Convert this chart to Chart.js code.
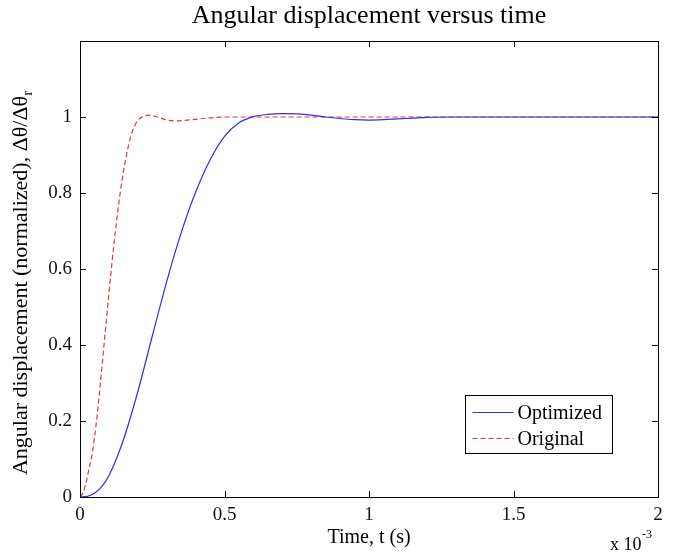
<!DOCTYPE html>
<html>
<head>
<meta charset="utf-8">
<script src="https://cdn.jsdelivr.net/npm/chart.js@4.4.0/dist/chart.umd.min.js"></script>
<style>
html, body { margin: 0; padding: 0; background: #fff; }
#wrap { width: 678px; height: 556px; position: relative; }
</style>
</head>
<body>
<div id="wrap"><canvas id="stepChart"></canvas></div>
<script>
// time in units of 1e-3 s
const timeOptimized = [0, 0.025, 0.05, 0.075, 0.10, 0.15, 0.20, 0.25, 0.30, 0.35, 0.40, 0.45, 0.50, 0.55, 0.60, 0.65, 0.70, 0.75, 0.80, 0.85, 0.90, 0.95, 1.00, 1.05, 1.10, 1.15, 1.20, 1.30, 1.40, 1.60, 1.80, 2.00];
const optimized = [0, 0.0018, 0.0099, 0.027, 0.056, 0.150, 0.277, 0.423, 0.567, 0.695, 0.802, 0.887, 0.949, 0.985, 1.001, 1.007, 1.009, 1.008, 1.005, 1.000, 0.996, 0.993, 0.992, 0.993, 0.995, 0.997, 0.999, 1.0, 1.0, 1.0, 1.0, 1.0];
const timeOriginal = [0, 0.01, 0.02, 0.03, 0.04, 0.05, 0.06, 0.07, 0.08, 0.09, 0.10, 0.11, 0.12, 0.13, 0.14, 0.15, 0.16, 0.17, 0.18, 0.19, 0.20, 0.22, 0.24, 0.26, 0.28, 0.30, 0.33, 0.36, 0.40, 0.44, 0.50, 0.60, 0.80, 1.0, 1.5, 2.0];
const original = [0, 0.01, 0.035, 0.07, 0.105, 0.155, 0.22, 0.295, 0.375, 0.455, 0.535, 0.612, 0.683, 0.748, 0.805, 0.855, 0.897, 0.932, 0.959, 0.978, 0.991, 1.002, 1.005, 1.002, 0.997, 0.992, 0.990, 0.991, 0.994, 0.997, 1.0, 1.0, 1.0, 1.0, 1.0, 1.0];
const xTicks = [0, 0.5, 1, 1.5, 2];
const yTicks = [0, 0.2, 0.4, 0.6, 0.8, 1];
const seriesNames = ['Optimized', 'Original'];

const serif = "'Liberation Serif', 'Times New Roman', serif";

function toPoints(xs, ys) {
    return xs.map((x, i) => ({ x: x, y: ys[i] }));
}

// matlab style box, inward ticks, texts and legend
const matlabFrame = {
    id: 'matlabFrame',
    afterDatasetsDraw(chart) {
        const ctx = chart.ctx;
        const a = chart.chartArea;
        const xs = chart.scales.x;
        const ys = chart.scales.y;
        const tl = 6;
        ctx.save();
        ctx.strokeStyle = '#000';
        ctx.lineWidth = 1;
        ctx.strokeRect(Math.round(a.left) + 0.5, Math.round(a.top) + 0.5, Math.round(a.right - a.left), Math.round(a.bottom - a.top));
        ctx.beginPath();
        xTicks.forEach(v => {
            const px = Math.round(xs.getPixelForValue(v)) + 0.5;
            ctx.moveTo(px, a.bottom); ctx.lineTo(px, a.bottom - tl);
            ctx.moveTo(px, a.top); ctx.lineTo(px, a.top + tl);
        });
        yTicks.forEach(v => {
            const py = Math.round(ys.getPixelForValue(v)) + 0.5;
            ctx.moveTo(a.left, py); ctx.lineTo(a.left + tl, py);
            ctx.moveTo(a.right, py); ctx.lineTo(a.right - tl, py);
        });
        ctx.stroke();

        // legend
        const bw = 147, bh = 58;
        const bx = Math.round(a.right - 46 - bw) + 0.5;
        const by = Math.round(a.bottom - 44 - bh) + 0.5;
        ctx.fillStyle = '#fff';
        ctx.fillRect(bx, by, bw, bh);
        ctx.strokeRect(bx, by, bw, bh);
        ctx.font = '20px ' + serif;
        ctx.textBaseline = 'middle';
        ctx.textAlign = 'left';
        chart.data.datasets.forEach((ds, i) => {
            const ly = by + 17 + i * 26;
            ctx.strokeStyle = ds.borderColor;
            ctx.lineWidth = ds.borderWidth;
            ctx.setLineDash(ds.borderDash || []);
            ctx.beginPath();
            ctx.moveTo(bx + 7, ly);
            ctx.lineTo(bx + 48, ly);
            ctx.stroke();
            ctx.setLineDash([]);
            ctx.fillStyle = '#000';
            ctx.fillText(ds.label, bx + 52, ly + 1);
        });

        // title
        const cx = (a.left + a.right) / 2;
        ctx.fillStyle = '#000';
        ctx.textAlign = 'center';
        ctx.textBaseline = 'alphabetic';
        ctx.font = '26px ' + serif;
        ctx.fillText('Angular displacement versus time', cx, 23);

        // x label
        ctx.font = '20px ' + serif;
        ctx.fillText('Time, t (s)', cx, a.bottom + 46);

        // exponent
        ctx.textAlign = 'left';
        ctx.font = '18px ' + serif;
        ctx.fillText('x 10', a.right - 48, a.bottom + 53);
        ctx.font = '12px ' + serif;
        ctx.fillText('-3', a.right - 16, a.bottom + 41);

        // y label with subscript r
        const main = 'Angular displacement (normalized), \u0394\u03b8/\u0394\u03b8';
        ctx.font = '22px ' + serif;
        const w1 = ctx.measureText(main).width;
        ctx.font = '15px ' + serif;
        const w2 = ctx.measureText('r').width;
        const total = w1 + w2;
        ctx.translate(27, (a.top + a.bottom) / 2 + 14);
        ctx.rotate(-Math.PI / 2);
        ctx.font = '22px ' + serif;
        ctx.fillText(main, -total / 2, 0);
        ctx.font = '15px ' + serif;
        ctx.fillText('r', -total / 2 + w1, 5);
        ctx.restore();
    }
};

const ctx = document.getElementById('stepChart').getContext('2d');
const stepChart = new Chart(ctx, {
    type: 'line',
    data: {
        datasets: [{
            label: seriesNames[0],
            data: toPoints(timeOptimized, optimized),
            borderColor: '#2f2fe2',
            borderWidth: 1.2,
            pointRadius: 0,
            cubicInterpolationMode: 'monotone',
            fill: false
        }, {
            label: seriesNames[1],
            data: toPoints(timeOriginal, original),
            borderColor: '#e2343f',
            borderWidth: 1.2,
            borderDash: [5, 3],
            pointRadius: 0,
            cubicInterpolationMode: 'monotone',
            fill: false
        }]
    },
    options: {
        responsive: true,
        maintainAspectRatio: false,
        animation: false,
        layout: {
            padding: { top: 41, right: 20, left: 0, bottom: 0 }
        },
        scales: {
            x: {
                type: 'linear',
                min: 0,
                max: 2,
                afterBuildTicks: s => { s.ticks = xTicks.map(v => ({ value: v })); },
                afterFit: s => { s.height = 59; },
                grid: { display: false, drawTicks: false },
                border: { display: false },
                ticks: {
                    color: '#111',
                    font: { family: serif, size: 19 },
                    padding: 7,
                    maxRotation: 0,
                    callback: v => String(v)
                }
            },
            y: {
                type: 'linear',
                min: 0,
                max: 1.2,
                afterBuildTicks: s => { s.ticks = yTicks.map(v => ({ value: v })); },
                afterFit: s => { s.width = 80; },
                grid: { display: false, drawTicks: false },
                border: { display: false },
                ticks: {
                    color: '#111',
                    font: { family: serif, size: 19 },
                    padding: 8,
                    callback: v => String(v)
                }
            }
        },
        plugins: {
            legend: { display: false },
            tooltip: { enabled: false }
        }
    },
    plugins: [matlabFrame]
});
</script>
</body>
</html>
